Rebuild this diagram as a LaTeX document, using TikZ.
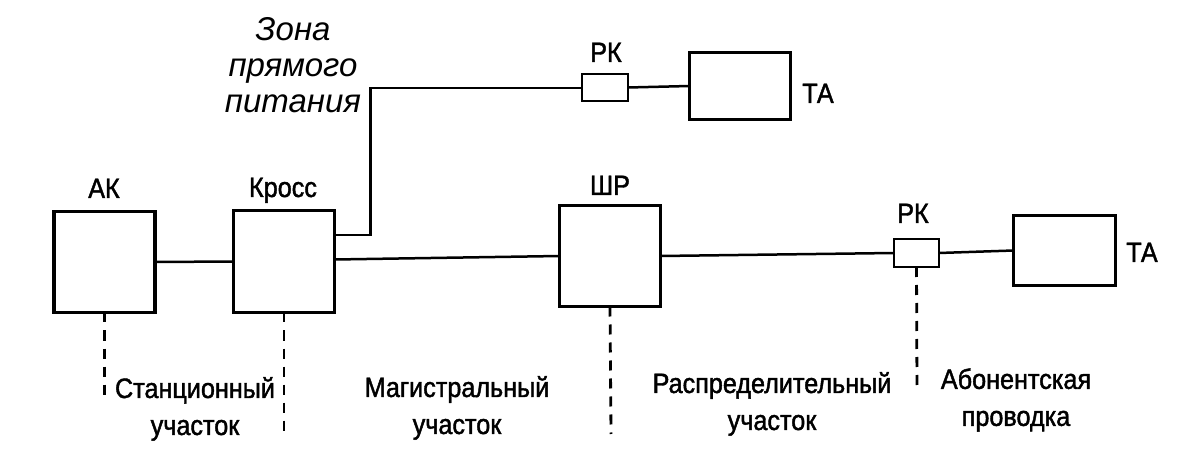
\documentclass[tikz,border=0pt]{standalone}
\usepackage{fontspec}
\setmainfont{Liberation Sans}
\newfontfamily\condfont{Liberation Sans}[FakeStretch=0.9,FakeBold=1.5]
\newfontfamily\zonefont{Liberation Sans Italic}
\begin{document}
\begin{tikzpicture}[x=1pt,y=-1pt,
  bigbox/.style={draw,line width=3.5pt,inner sep=0pt,outer sep=0pt},
  smallbox/.style={draw,line width=2.2pt,inner sep=0pt,outer sep=0pt,minimum width=45pt,minimum height=28pt},
  wire/.style={line width=2.5pt},
  sep/.style={line width=2.8pt,dash pattern=on 10pt off 8pt},
  lbl/.style={font=\condfont\fontsize{28}{37}\selectfont,inner sep=0pt,anchor=base},
  seclbl/.style={font=\condfont\fontsize{28}{37}\selectfont,inner sep=0pt,align=center},
  zonelbl/.style={font=\zonefont\fontsize{33}{36}\selectfont,inner sep=0pt,align=center}]
\useasboundingbox (0,0) rectangle (1186,462);
\fill[white] (0,0) rectangle (1186,462);
% boxes
\node[bigbox,minimum width=101pt,minimum height=101pt] (AK) at (104.7,262) {};
\node[bigbox,minimum width=101pt,minimum height=102pt] (Kross) at (284,261.5) {};
\node[bigbox,minimum width=101pt,minimum height=101pt] (ShR) at (610,256) {};
\node[smallbox] (RKlow) at (916.5,253) {};
\node[bigbox,minimum width=102pt,minimum height=70pt] (TAlow) at (1064.5,250.5) {};
\node[smallbox,minimum width=46pt,minimum height=27pt] (RKup) at (605,87.5) {};
\node[bigbox,minimum width=101pt,minimum height=67pt] (TAup) at (740,86) {};
% labels
\node[lbl] (lAK) at (104,198) {АК};
\node[lbl] (lKross) at (283,197) {Кросс};
\node[lbl] (lShR) at (610,195) {ШР};
\node[lbl] (lRKlow) at (913,223) {РК};
\node[lbl] (lTAlow) at (1142,262) {ТА};
\node[lbl] (lRKup) at (606,62) {РК};
\node[lbl] (lTAup) at (818,103) {ТА};
\node[zonelbl] (zone) at (293,65) {Зона\\прямого\\питания};
% connectors
\coordinate (b1) at (370.7,235);
\coordinate (b2) at (370.7,88);
\draw[wire] (AK.east) -- (Kross.west);
\draw[wire] ([yshift=2pt]Kross.east) -- (ShR.west);
\draw[wire] (ShR.east) -- (RKlow.west);
\draw[wire] (RKlow.east) -- (TAlow.west);
\draw[wire] (Kross.east |- b1) -- (b1) -- (b2) -- (RKup.west |- b2);
\draw[wire] (RKup.east) -- (TAup.west);
% section separators
\coordinate (dAK) at (104.7,395);
\coordinate (dKross) at (284,438);
\coordinate (dShR) at (611,434);
\coordinate (dRK) at (917,390);
\draw[sep] (AK.south) -- (dAK);
\draw[sep] (Kross.south) -- (dKross);
\draw[sep] (ShR.south) -- (dShR);
\draw[sep] (RKlow.south) -- (dRK);
% section labels
\node[seclbl] (s1) at (195,409) {Станционный\\участок};
\node[seclbl] (s2) at (457,408) {Магистральный\\участок};
\node[seclbl] (s3) at (772,404) {Распределительный\\участок};
\node[seclbl] (s4) at (1016,400) {Абонентская\\проводка};
\end{tikzpicture}
\end{document}
